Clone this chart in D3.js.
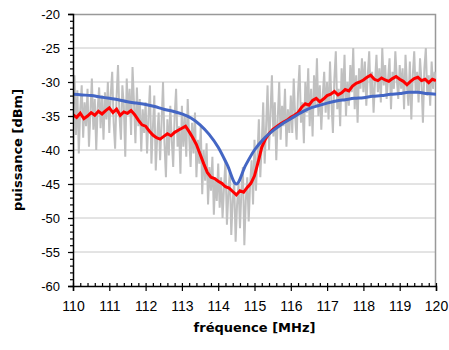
<!DOCTYPE html>
<html>
<head>
<meta charset="utf-8">
<script src="https://cdn.jsdelivr.net/npm/d3@7"></script>
<style>
  body { margin: 0; background: #fff; }
  svg { display: block; }
  .tick text { font-family: "Liberation Sans", Arial, sans-serif; fill: #000; }
  .title { font-family: "DejaVu Sans", Verdana, sans-serif; font-weight: bold; font-size: 13px; }
</style>
</head>
<body>
<div id="chart"></div>
<script>
// sampling grids (MHz)
var rawStep = 0.04, smoothStep = 0.1, fitStep = 0.25;

// raw measurement, one value per 0.04 MHz from 110 to 120
var rawPower = [
  -33.5, -29.0, -37.8, -31.2, -40.5, -34.0, -30.5, -38.2, -33.0, -36.5, -31.0, -39.5, -34.5, -29.5, -37.0, -32.5, -40.0, -33.8, -30.8, -36.8, -32.0, -38.5, -31.5, -35.5, -30.0,
  -37.5, -31.8, -28.5, -36.0, -39.8, -32.2, -27.5, -35.0, -38.5, -30.5, -33.5, -41.0, -29.5, -34.8, -31.0, -37.8, -27.8, -33.0, -39.0, -30.8, -36.5, -32.5, -40.2, -34.0, -37.5,
  -33.0, -40.5, -35.0, -30.5, -42.0, -36.8, -32.0, -43.0, -38.0, -34.5, -41.5, -36.0, -30.0, -39.0, -44.0, -35.5, -40.8, -33.5, -38.5, -42.5, -35.0, -31.0, -39.5, -36.5, -43.5,
  -33.5, -39.5, -35.0, -41.0, -32.5, -38.0, -42.5, -36.0, -40.5, -34.5, -44.0, -38.5, -42.0, -36.5, -46.5, -40.0, -44.5, -39.0, -48.0, -42.5, -46.0, -41.0, -49.5, -44.0, -47.5,
  -42.0, -48.5, -44.0, -50.0, -45.5, -41.5, -51.0, -46.5, -43.0, -52.5, -47.5, -44.5, -53.5, -48.0, -45.0, -51.5, -46.0, -42.5, -54.0, -47.5, -44.0, -50.5, -45.0, -41.5, -48.0,
  -38.5, -46.0, -41.0, -35.5, -44.0, -39.0, -33.0, -42.0, -36.5, -30.5, -40.0, -34.5, -29.0, -38.0, -33.0, -41.5, -35.5, -30.0, -38.5, -33.5, -36.5, -31.0, -39.5, -34.0, -37.5,
  -32.0, -37.5, -29.5, -35.0, -38.5, -31.5, -27.5, -36.0, -33.0, -39.0, -30.0, -34.5, -28.0, -36.5, -31.0, -38.0, -29.0, -33.5, -26.5, -35.0, -30.5, -37.0, -32.0, -28.5, -34.5,
  -30.0, -35.5, -27.0, -33.0, -37.5, -29.5, -25.5, -34.0, -31.0, -36.5, -28.0, -32.5, -26.0, -35.0, -30.0, -33.5, -27.5, -31.5, -25.0, -34.0, -29.0, -36.0, -28.0, -31.0, -26.5,
  -31.5, -27.0, -33.5, -29.0, -25.5, -32.0, -28.5, -34.5, -30.0, -26.0, -31.5, -28.0, -33.0, -25.0, -30.5, -27.5, -32.5, -29.5, -26.5, -34.0, -28.5, -31.0, -25.5, -29.5, -32.5,
  -27.5, -31.0, -28.0, -34.0, -26.0, -30.5, -33.5, -27.0, -35.5, -29.0, -25.5, -31.5, -28.5, -33.0, -26.5, -30.0, -36.0, -28.0, -25.0, -32.0, -29.0, -33.5, -27.0, -31.0, -28.5, -30.0
];

// smoothed measurement, one value per 0.1 MHz
var smoothPower = [
  -34.8, -35.2, -34.6, -35.4, -35.0, -34.5, -34.9, -34.3, -34.7, -34.2,
  -33.8, -34.5, -34.0, -34.9, -34.4, -34.6, -34.2, -34.8, -35.6, -36.3,
  -36.5, -37.2, -37.8, -38.2, -38.4, -38.0, -37.6, -37.9, -37.4, -37.1,
  -36.8, -36.5, -37.3, -38.2, -39.2, -40.6, -42.0, -43.3, -44.0, -44.2,
  -44.6, -44.9, -45.4, -45.6, -46.1, -46.6, -46.0, -46.2, -45.5, -44.9,
  -43.8, -41.8, -39.6, -38.4, -37.6, -37.0, -36.6, -36.2, -35.9, -35.6,
  -35.2, -34.9, -34.5, -33.7, -33.2, -33.4, -32.7, -32.4, -32.9, -32.5,
  -32.0, -31.8, -31.4, -31.9, -31.6, -31.1, -31.3, -30.6, -30.2, -30.0,
  -29.7, -29.3, -29.0, -29.6, -29.8, -29.4, -29.7, -29.9, -29.5, -29.2,
  -29.6, -29.9, -30.4, -29.9, -29.5, -29.3, -29.8, -29.6, -30.1, -29.6,
  -29.8
];

// fitted resonance curve, one value per 0.25 MHz
var fitPower = [
  -31.8, -31.9, -32.0, -32.2, -32.4, -32.6, -32.9, -33.1, -33.3, -33.6,
  -34.0, -34.3, -34.7, -35.3, -36.3, -37.7, -39.6, -42.2, -45.0, -42.3,
  -40.0, -38.4, -37.2, -36.2, -35.4, -34.6, -33.9, -33.5, -33.1, -32.8,
  -32.6, -32.4, -32.3, -32.1, -32.0, -31.8, -31.7, -31.5, -31.5, -31.7,
  -31.8
];

var xTicks = [110, 111, 112, 113, 114, 115, 116, 117, 118, 119, 120];
var yTicks = [-60, -55, -50, -45, -40, -35, -30, -25, -20];

function toPoints(values, step) {
  return values.map(function(v, i) { return { f: 110 + i * step, p: v }; });
}

var margin = { top: 14, right: 13, bottom: 64, left: 73 },
  W = 449, H = 350,
  width = W - margin.left - margin.right,
  height = H - margin.top - margin.bottom;

var x = d3.scaleLinear().domain([110, 120]).range([0, width]),
  y = d3.scaleLinear().domain([-60, -20]).range([height, 0]);

var svg = d3.select("#chart").append("svg")
  .attr("width", W)
  .attr("height", H);

var g = svg.append("g")
  .attr("transform", "translate(" + margin.left + "," + margin.top + ")");

g.append("clipPath")
  .attr("id", "clip")
  .append("rect")
  .attr("width", width)
  .attr("height", height);

// horizontal grid
g.selectAll(".grid")
  .data(yTicks.filter(function(d) { return d > -60 && d < -20; }))
  .enter().append("line")
  .attr("class", "grid")
  .attr("x1", 0).attr("x2", width)
  .attr("y1", function(d) { return y(d); })
  .attr("y2", function(d) { return y(d); })
  .style("stroke", "#c8c8c8")
  .style("stroke-width", 1);

// frame top/right
g.append("path")
  .attr("d", "M0,0.5H" + (width - 0.5) + "V" + height)
  .style("fill", "none")
  .style("stroke", "#999")
  .style("stroke-width", 1.5);

var line = d3.line()
  .x(function(d) { return x(d.f); })
  .y(function(d) { return y(d.p); });

g.append("path")
  .datum(toPoints(rawPower, rawStep))
  .attr("clip-path", "url(#clip)")
  .attr("d", line)
  .style("fill", "none")
  .style("stroke", "#c0c0c0")
  .style("stroke-width", 2);

g.append("path")
  .datum(toPoints(smoothPower, smoothStep))
  .attr("clip-path", "url(#clip)")
  .attr("d", line)
  .style("fill", "none")
  .style("stroke", "#ff0000")
  .style("stroke-width", 3);

g.append("path")
  .datum(toPoints(fitPower, fitStep))
  .attr("clip-path", "url(#clip)")
  .attr("d", d3.line().curve(d3.curveMonotoneX).x(function(d) { return x(d.f); }).y(function(d) { return y(d.p); }))
  .style("fill", "none")
  .style("stroke", "#4466c4")
  .style("stroke-width", 3);

// minor ticks
var yMinor = d3.axisLeft(y).tickValues(d3.range(-60, -19, 1)).tickSize(3).tickFormat("");
var xMinor = d3.axisBottom(x).tickValues(d3.range(110, 120.01, 0.2)).tickSize(-3).tickFormat("");
g.append("g").attr("class", "minor").call(yMinor);
g.append("g").attr("class", "minor").attr("transform", "translate(0," + height + ")").call(xMinor);

// major axes, plain hyphen for negatives
var yAxis = d3.axisLeft(y).tickValues(yTicks).tickSize(5).tickPadding(8).tickFormat(function(d) { return String(d); });
var xAxis = d3.axisBottom(x).tickValues(xTicks).tickSize(5).tickPadding(10).tickFormat(function(d) { return String(d); });

var ya = g.append("g").attr("class", "y axis").call(yAxis);
var xa = g.append("g").attr("class", "x axis")
  .attr("transform", "translate(0," + height + ")")
  .call(xAxis);

ya.selectAll("text").style("font-size", "13px");
xa.selectAll("text").style("font-size", "14px");

g.selectAll(".domain").style("stroke", "#000").style("stroke-width", 1.5);
g.selectAll(".tick line").style("stroke", "#000").style("stroke-width", 1.2);
g.selectAll(".minor .domain").remove();

svg.append("text")
  .attr("class", "title")
  .attr("x", margin.left + width / 2)
  .attr("y", 332)
  .attr("text-anchor", "middle")
  .text("fréquence [MHz]");

svg.append("text")
  .attr("class", "title")
  .attr("transform", "translate(22," + (margin.top + height / 2) + ") rotate(-90)")
  .attr("text-anchor", "middle")
  .text("puissance [dBm]");
</script>
</body>
</html>
